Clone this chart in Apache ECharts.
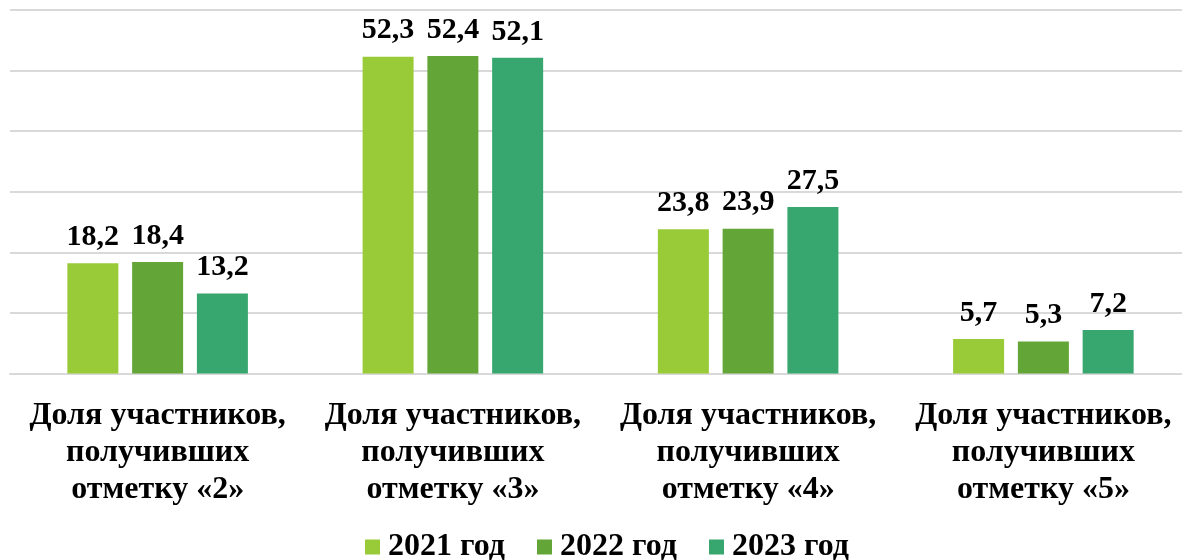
<!DOCTYPE html>
<html>
<head>
<meta charset="utf-8">
<script src="https://cdn.jsdelivr.net/npm/echarts@6/dist/echarts.min.js"></script>
<style>
  html, body { margin: 0; padding: 0; background: #ffffff; }
  #chart { width: 1182px; height: 560px; }
</style>
</head>
<body>
<div id="chart"></div>
<script>
// Категории: доли участников по отметкам
const categories = [
  'Доля участников,\nполучивших\nотметку «2»',
  'Доля участников,\nполучивших\nотметку «3»',
  'Доля участников,\nполучивших\nотметку «4»',
  'Доля участников,\nполучивших\nотметку «5»'
];
const seriesNames = ['2021 год', '2022 год', '2023 год'];
const values2021 = [18.2, 52.3, 23.8, 5.7];
const values2022 = [18.4, 52.4, 23.9, 5.3];
const values2023 = [13.2, 52.1, 27.5, 7.2];
const colors = ['#99CB38', '#63A537', '#37A76F'];

const serifFont = 'Liberation Serif';

function fmt(v) {
  return v.toFixed(1).replace('.', ',');
}

function makeSeries(name, data, color) {
  return {
    name: name,
    type: 'bar',
    data: data,
    barWidth: 51,
    barGap: '27%',
    itemStyle: { color: color },
    label: {
      show: true,
      position: 'top',
      distance: 11,
      formatter: p => fmt(p.value),
      fontFamily: serifFont,
      fontWeight: 'bold',
      fontSize: 30,
      color: '#000000'
    }
  };
}

const chart = echarts.init(document.getElementById('chart'));
chart.setOption({
  animation: false,
  backgroundColor: '#ffffff',
  color: colors,
  // plot area runs past the right edge of the canvas
  grid: { left: 10, top: 10, width: 1181, height: 363.5, containLabel: false, outerBoundsMode: 'none' },
  legend: {
    bottom: -8,
    left: 360,
    icon: 'rect',
    itemWidth: 15,
    itemHeight: 15,
    itemGap: 32,
    textStyle: {
      fontFamily: serifFont,
      fontWeight: 'bold',
      fontSize: 32,
      color: '#000000',
      padding: [0, 0, 0, 3]
    },
    data: seriesNames
  },
  xAxis: {
    type: 'category',
    data: categories,
    axisLine: { lineStyle: { color: '#d9d9d9', width: 2 } },
    axisTick: { show: false },
    axisLabel: {
      interval: 0,
      margin: 24,
      fontFamily: serifFont,
      fontWeight: 'bold',
      fontSize: 32,
      lineHeight: 37,
      color: '#000000'
    }
  },
  yAxis: {
    type: 'value',
    min: 0,
    max: 60,
    interval: 10,
    axisLabel: { show: false },
    axisLine: { show: false },
    axisTick: { show: false },
    splitLine: { lineStyle: { color: '#d9d9d9', width: 2 } }
  },
  series: [
    makeSeries(seriesNames[0], values2021, colors[0]),
    makeSeries(seriesNames[1], values2022, colors[1]),
    makeSeries(seriesNames[2], values2023, colors[2])
  ]
});
</script>
</body>
</html>
